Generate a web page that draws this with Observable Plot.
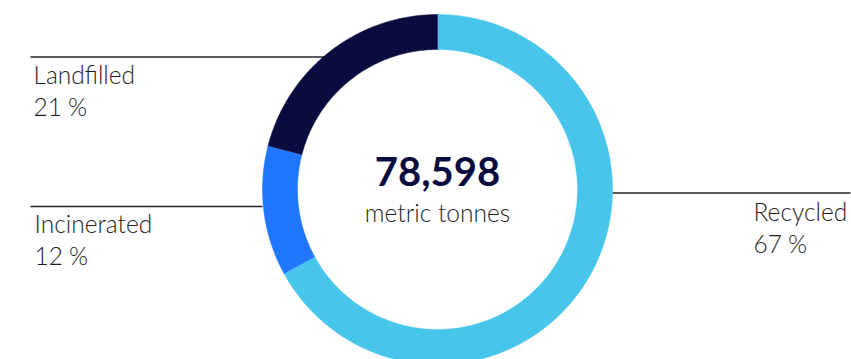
<!DOCTYPE html>
<html>
<head>
<meta charset="utf-8">
<script src="https://cdn.jsdelivr.net/npm/d3@7"></script>
<script src="https://cdn.jsdelivr.net/npm/@observablehq/plot@0.6"></script>
<style>
  html, body { margin: 0; padding: 0; background: #fff; }
  #chart svg { display: block; }
</style>
</head>
<body>
<div id="chart"></div>
<script>
// ---- Data ----
const categories = ["Recycled", "Incinerated", "Landfilled"];
const shares = [67, 12, 21];
const shareLabels = ["67\u202F%", "12\u202F%", "21\u202F%"];
const totalValue = "78,598";
const totalUnit = "metric tonnes";

// ---- Layout / style ----
const W = 851, H = 359;
const cx = 437, cy = 189, R = 175, r = 140;
const colors = {Recycled: "#47c5ea", Incinerated: "#2176fe", Landfilled: "#0a0c40"};
const labelLayout = {
  Recycled:    {x: 753, y: 252, lx1: 612, lx2: 850, ly: 192.5},
  Incinerated: {x: 34,  y: 264, lx1: 30,  lx2: 262, ly: 206},
  Landfilled:  {x: 33,  y: 115, lx1: 30,  lx2: 327, ly: 56.5}
};

// build ring polygons from shares (clockwise from 12 o'clock)
const total = d3.sum(shares);
let acc = 0;
const slices = categories.map((c, i) => {
  const a0 = acc / total * 2 * Math.PI;
  acc += shares[i];
  const a1 = acc / total * 2 * Math.PI;
  const n = Math.max(2, Math.ceil((a1 - a0) / (Math.PI / 360)));
  const pts = [];
  for (let k = 0; k <= n; k++) {
    const a = a0 + (a1 - a0) * k / n;
    pts.push({x: cx + R * Math.sin(a), y: cy - R * Math.cos(a)});
  }
  for (let k = n; k >= 0; k--) {
    const a = a0 + (a1 - a0) * k / n;
    pts.push({x: cx + r * Math.sin(a), y: cy - r * Math.cos(a)});
  }
  return {category: c, pts};
});

const labels = categories.map((c, i) => ({
  category: c,
  text: c + "\n" + shareLabels[i],
  ...labelLayout[c]
}));

const font = "Lato, 'Open Sans', sans-serif";

const plot = Plot.plot({
  width: W,
  height: H,
  margin: 0,
  x: {domain: [0, W], range: [0, W], axis: null},
  y: {domain: [0, H], range: [0, H], axis: null},
  style: {background: "#fff", fontFamily: font},
  marks: [
    Plot.link(labels, {x1: "lx1", x2: "lx2", y1: "ly", y2: "ly", stroke: "#222", strokeWidth: 1.3}),
    ...slices.map(s => Plot.line(s.pts, {x: "x", y: "y", fill: colors[s.category], stroke: colors[s.category], strokeWidth: 0.5})),
    Plot.text(labels, {x: "x", y: "y", text: "text", textAnchor: "start", lineAnchor: "bottom",
      lineHeight: 32 / 24.5, fontSize: 24.5, fontWeight: 300, fill: "#1e1e1e", fontFamily: font}),
    Plot.text([totalValue], {x: () => cx, y: () => 185, text: d => d, lineAnchor: "bottom",
      fontSize: 40, fontWeight: "bold", fill: "#0a0c40", fontFamily: font}),
    Plot.text([totalUnit], {x: () => cx, y: () => 221.5, text: d => d, lineAnchor: "bottom",
      fontSize: 24.5, fontWeight: 300, fill: "#1e1e1e", fontFamily: font})
  ]
});
document.getElementById("chart").appendChild(plot);
</script>
</body>
</html>
